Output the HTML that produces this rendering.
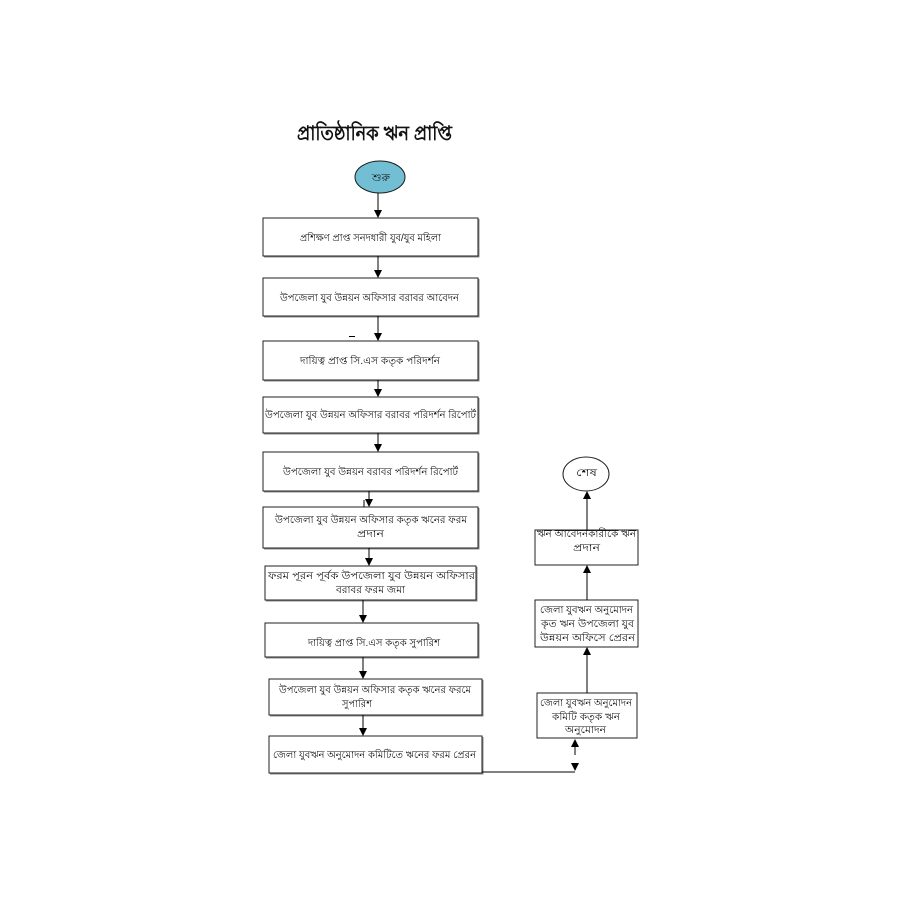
<!DOCTYPE html>
<html>
<head>
<meta charset="utf-8">
<style>
html,body{margin:0;padding:0;background:#fff;}
svg{display:block;}
text{font-family:"Liberation Sans","Noto Sans CJK SC",sans-serif;fill:#111;}
.t{font-size:10px;}
</style>
</head>
<body>
<svg width="900" height="900" viewBox="0 0 900 900" xmlns="http://www.w3.org/2000/svg">
<rect width="900" height="900" fill="#fff"/>

<!-- Title -->
<text x="374.5" y="140" font-size="20" font-weight="bold" text-anchor="middle" textLength="155" lengthAdjust="spacingAndGlyphs">প্রাতিষ্ঠানিক ঋন প্রাপ্তি</text>

<!-- Start ellipse -->
<ellipse cx="380" cy="177" rx="25" ry="16" fill="#72bfd3" stroke="#1a1a1a" stroke-width="1"/>
<text class="t" x="381" y="181" text-anchor="middle" textLength="18" lengthAdjust="spacingAndGlyphs">শুরু</text>

<g fill="#fff" stroke="#222" stroke-width="1">
<g stroke="#888" fill="none" stroke-width="1">
<polyline points="479,219 479,257 264,257"/>
<polyline points="479,279 479,317 264,317"/>
<polyline points="479,342 479,381 264,381"/>
<polyline points="479,398 479,434 264,434"/>
<polyline points="479,453 479,492 264,492"/>
<polyline points="479,508 479,549 264,549"/>
<polyline points="477,567 477,601 266,601"/>
<polyline points="479,624 479,658 266,658"/>
<polyline points="483,680 483,716 270,716"/>
<polyline points="483,737 483,774 270,774"/>
</g>
<rect x="263" y="218" width="215" height="38"/>
<rect x="263" y="278" width="215" height="38"/>
<rect x="263" y="341" width="215" height="39"/>
<rect x="263" y="397" width="215" height="36"/>
<rect x="263" y="452" width="215" height="39"/>
<rect x="263" y="507" width="215" height="41"/>
<rect x="265" y="566" width="211" height="34"/>
<rect x="265" y="623" width="213" height="34"/>
<rect x="269" y="679" width="213" height="36"/>
<rect x="269" y="736" width="213" height="37"/>
<rect x="537" y="693" width="100" height="45"/>
<rect x="535" y="600" width="103" height="47"/>
<rect x="535" y="530" width="103" height="35"/>
</g>
<ellipse cx="586" cy="474" rx="23" ry="17" fill="#fff" stroke="#222" stroke-width="1"/>
<text class="t" x="586.5" y="476" text-anchor="middle" textLength="21" lengthAdjust="spacingAndGlyphs">শেষ</text>

<!-- connectors -->
<g stroke="#000" stroke-width="1" fill="none">
<line x1="378" y1="193" x2="378" y2="211"/>
<line x1="378" y1="256" x2="378" y2="271"/>
<line x1="378" y1="316" x2="378" y2="334"/>
<line x1="378" y1="380" x2="378" y2="390"/>
<line x1="378" y1="433" x2="378" y2="445"/>
<line x1="369" y1="491" x2="369" y2="500"/>
<line x1="369" y1="548" x2="369" y2="559"/>
<line x1="363" y1="600" x2="363" y2="616"/>
<line x1="363" y1="657" x2="363" y2="672"/>
<line x1="363" y1="715" x2="363" y2="729"/>
<line x1="349" y1="336.5" x2="355" y2="336.5"/>
<line x1="364" y1="500" x2="364" y2="507"/>
<polyline points="482,772 575,772"/>
<line x1="575" y1="755" x2="575" y2="746"/>
<line x1="587" y1="693" x2="587" y2="654"/>
<line x1="587" y1="600" x2="587" y2="572"/>
<line x1="587" y1="530" x2="587" y2="498"/>
</g>
<g fill="#000">
<!-- down arrowheads: tip (x,y) -->
<polygon points="374,210 382,210 378,218"/>
<polygon points="374,270 382,270 378,278"/>
<polygon points="374,333 382,333 378,341"/>
<polygon points="374,389 382,389 378,397"/>
<polygon points="374,444 382,444 378,452"/>
<polygon points="365,499 373,499 369,507"/>
<polygon points="365,558 373,558 369,566"/>
<polygon points="359,615 367,615 363,623"/>
<polygon points="359,671 367,671 363,679"/>
<polygon points="359,728 367,728 363,736"/>
<polygon points="571,763 579,763 575,771"/>
<!-- up arrowheads -->
<polygon points="571,747 579,747 575,739"/>
<polygon points="583,655 591,655 587,647"/>
<polygon points="583,573 591,573 587,565"/>
<polygon points="583,499 591,499 587,491"/>
</g>

<!-- box texts -->
<g class="t" font-size="10" text-anchor="middle">
<text x="370.5" y="241" textLength="141" lengthAdjust="spacingAndGlyphs">প্রশিক্ষণ প্রাপ্ত সনদধারী যুব/যুব মহিলা</text>
<text x="369.5" y="301" textLength="179" lengthAdjust="spacingAndGlyphs">উপজেলা যুব উন্নয়ন অফিসার বরাবর আবেদন</text>
<text x="370" y="364" textLength="140" lengthAdjust="spacingAndGlyphs">দায়িত্ব প্রাপ্ত সি.এস কতৃক পরিদর্শন</text>
<text x="370.5" y="418" textLength="211" lengthAdjust="spacingAndGlyphs">উপজেলা যুব উন্নয়ন অফিসার বরাবর পরিদর্শন রিপোর্ট</text>
<text x="370.5" y="475" textLength="175" lengthAdjust="spacingAndGlyphs">উপজেলা যুব উন্নয়ন বরাবর পরিদর্শন রিপোর্ট</text>
<text x="371" y="523" textLength="192" lengthAdjust="spacingAndGlyphs">উপজেলা যুব উন্নয়ন অফিসার কতৃক ঋনের ফরম</text>
<text x="370.5" y="537" textLength="27" lengthAdjust="spacingAndGlyphs">প্রদান</text>
<text x="371.5" y="579" textLength="207" lengthAdjust="spacingAndGlyphs">ফরম পূরন পূর্বক উপজেলা যুব উন্নয়ন অফিসার</text>
<text x="370.5" y="593" textLength="69" lengthAdjust="spacingAndGlyphs">বরাবর ফরম জমা</text>
<text x="374" y="646" textLength="132" lengthAdjust="spacingAndGlyphs">দায়িত্ব প্রাপ্ত সি.এস কতৃক সুপারিশ</text>
<text x="375" y="693" textLength="192" lengthAdjust="spacingAndGlyphs">উপজেলা যুব উন্নয়ন অফিসার কতৃক ঋনের ফরমে</text>
<text x="357" y="707" textLength="30" lengthAdjust="spacingAndGlyphs">সুপারিশ</text>
<text x="374.5" y="758" textLength="203" lengthAdjust="spacingAndGlyphs">জেলা যুবঋন অনুমোদন কমিটিতে ঋনের ফরম প্রেরন</text>

<text x="586" y="706" textLength="92" lengthAdjust="spacingAndGlyphs">জেলা যুবঋন অনুমোদন</text>
<text x="586" y="720" textLength="68" lengthAdjust="spacingAndGlyphs">কমিটি কতৃক ঋন</text>
<text x="585.5" y="733" textLength="41" lengthAdjust="spacingAndGlyphs">অনুমোদন</text>

<text x="586.5" y="613" textLength="93" lengthAdjust="spacingAndGlyphs">জেলা যুবঋন অনুমোদন</text>
<text x="587.5" y="627" textLength="93" lengthAdjust="spacingAndGlyphs">কৃত ঋন উপজেলা যুব</text>
<text x="587.5" y="641" textLength="95" lengthAdjust="spacingAndGlyphs">উন্নয়ন অফিসে প্রেরন</text>

<text x="586.5" y="537" textLength="99" lengthAdjust="spacingAndGlyphs">ঋন আবেদনকারীকে ঋন</text>
<text x="586.5" y="551" textLength="27" lengthAdjust="spacingAndGlyphs">প্রদান</text>
</g>
</svg>
</body>
</html>
